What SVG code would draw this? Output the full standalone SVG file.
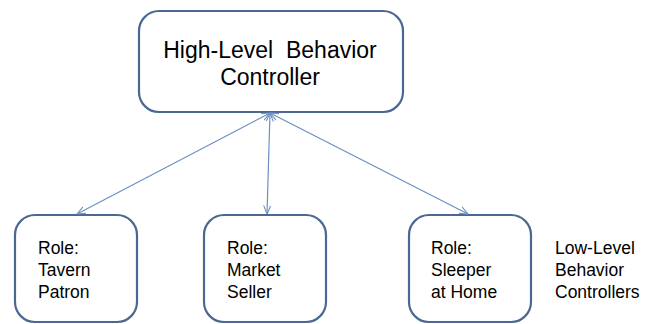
<svg xmlns="http://www.w3.org/2000/svg" width="649" height="324" viewBox="0 0 649 324">
<defs>
<marker id="ah" viewBox="0 0 10 10" refX="9.5" refY="5" markerWidth="9" markerHeight="9" orient="auto-start-reverse" markerUnits="userSpaceOnUse">
<path d="M0,1 L9.5,5 L0,9" fill="none" stroke="#6b8fc4" stroke-width="1.2"/>
</marker>
<style>
.box{fill:#fff;stroke:#4a6891;stroke-width:2.2}
.t{font-family:"Liberation Sans",Arial,sans-serif;fill:#000}
.big{font-size:23px}
.sm{font-size:17.5px}
.c{stroke:#6b8fc4;stroke-width:1.2;fill:none}
</style>
</defs>
<rect width="649" height="324" fill="#fff"/>
<g id="high">
<rect class="box" x="139" y="11" width="264" height="101" rx="20"/>
<text class="t big" x="270" y="58" text-anchor="middle" xml:space="preserve">High-Level  Behavior</text>
<text class="t big" x="270" y="85" text-anchor="middle">Controller</text>
</g>
<g id="tavern">
<rect class="box" x="15" y="215" width="122" height="107" rx="20"/>
<text class="t sm" x="38" y="254">Role:</text>
<text class="t sm" x="38" y="276">Tavern</text>
<text class="t sm" x="38" y="298">Patron</text>
</g>
<g id="market">
<rect class="box" x="204" y="215" width="122" height="107" rx="20"/>
<text class="t sm" x="227" y="254">Role:</text>
<text class="t sm" x="227" y="276">Market</text>
<text class="t sm" x="227" y="298">Seller</text>
</g>
<g id="sleeper">
<rect class="box" x="409" y="215" width="122" height="107" rx="20"/>
<text class="t sm" x="431" y="254">Role:</text>
<text class="t sm" x="431" y="276">Sleeper</text>
<text class="t sm" x="431" y="298">at Home</text>
</g>
<g id="lowlabel">
<text class="t sm" x="555" y="254">Low-Level</text>
<text class="t sm" x="555" y="276">Behavior</text>
<text class="t sm" x="555" y="298">Controllers</text>
</g>
<g id="connectors">
<line class="c" x1="270" y1="113" x2="77" y2="214" marker-start="url(#ah)" marker-end="url(#ah)"/>
<line class="c" x1="270" y1="113" x2="267" y2="214" marker-start="url(#ah)" marker-end="url(#ah)"/>
<line class="c" x1="270" y1="113" x2="468" y2="214" marker-start="url(#ah)" marker-end="url(#ah)"/>
</g>
</svg>
